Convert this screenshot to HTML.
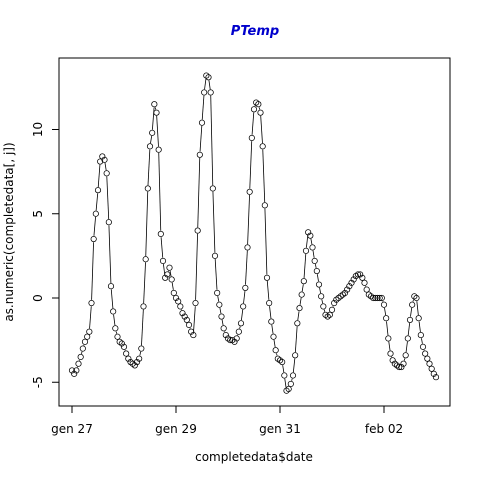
<!DOCTYPE html>
<html><head><meta charset="utf-8"><style>
body{margin:0;background:#fff;}
svg{display:block;font-family:"DejaVu Sans","Liberation Sans",sans-serif;}
</style></head><body>
<svg id="chart" width="480" height="480" viewBox="0 0 480 480">
<rect width="480" height="480" fill="#fff"/>
<text x="255" y="35" text-anchor="middle" font-size="13" font-weight="bold" font-style="italic" fill="#0000cc">PTemp</text>
<rect x="59" y="58" width="391" height="348" fill="none" stroke="#000" stroke-width="1"/>
<g id="xaxis"></g>
<g id="yaxis"></g>
<g id="series"></g>
<text x="254" y="461" text-anchor="middle" font-size="12">completedata$date</text>
<text transform="translate(13,232) rotate(-90)" text-anchor="middle" font-size="12">as.numeric(completedata[, j])</text>
</svg>
<script>
// hours since gen 27 00:00
const xTickHours = [0, 48, 96, 144];
const xTickLabels = ["gen 27", "gen 29", "gen 31", "feb 02"];
const yTicks = [-5, 0, 5, 10];
const values = [-4.3,-4.5,-4.3,-3.9,-3.5,-3.0,-2.6,-2.3,-2.0,-0.3,
3.5,5.0,6.4,8.1,8.4,8.2,7.4,4.5,0.7,-0.8,
-1.8,-2.3,-2.6,-2.7,-2.9,-3.3,-3.6,-3.8,-3.9,-4.0,
-3.8,-3.6,-3.0,-0.5,2.3,6.5,9.0,9.8,11.5,11.0,
8.8,3.8,2.2,1.2,1.4,1.8,1.1,0.3,0.0,-0.2,
-0.5,-0.9,-1.1,-1.3,-1.6,-2.0,-2.2,-0.3,4.0,8.5,
10.4,12.2,13.2,13.1,12.2,6.5,2.5,0.3,-0.4,-1.1,
-1.8,-2.2,-2.4,-2.5,-2.5,-2.6,-2.4,-2.0,-1.5,-0.5,
0.6,3.0,6.3,9.5,11.2,11.6,11.5,11.0,9.0,5.5,
1.2,-0.3,-1.4,-2.3,-3.1,-3.6,-3.7,-3.8,-4.6,-5.5,
-5.4,-5.1,-4.6,-3.4,-1.5,-0.6,0.2,1.0,2.8,3.9,
3.7,3.0,2.2,1.6,0.8,0.1,-0.5,-1.0,-1.1,-1.0,
-0.7,-0.3,-0.1,0.0,0.1,0.2,0.3,0.5,0.7,0.9,
1.1,1.3,1.4,1.4,1.2,0.9,0.5,0.2,0.1,0.0,
0.0,0.0,0.0,0.0,-0.4,-1.2,-2.4,-3.3,-3.7,-3.9,
-4.0,-4.1,-4.1,-3.9,-3.4,-2.4,-1.3,-0.4,0.1,0.0,
-1.2,-2.2,-2.9,-3.3,-3.6,-3.9,-4.2,-4.5,-4.7];

const NS = "http://www.w3.org/2000/svg";
function xs(h){ return 72 + h * 52 / 24; }
function ys(v){ return 298 - v * 16.85; }
function mk(tag, attrs, parent){
  const e = document.createElementNS(NS, tag);
  for (const k in attrs) e.setAttribute(k, attrs[k]);
  parent.appendChild(e); return e;
}
const xa = document.getElementById("xaxis");
xTickHours.forEach((h,i)=>{
  const t = mk("line",{x1:xs(h),x2:xs(h),y1:406,y2:413,stroke:"#000"},xa);
  
  
  const l = mk("text",{x:xs(h),y:433,"text-anchor":"middle","font-size":12},xa);
  l.textContent = xTickLabels[i];
  
  
});
const ya = document.getElementById("yaxis");
yTicks.forEach(v=>{
  const t = mk("line",{x1:52,x2:59,y1:ys(v),y2:ys(v),stroke:"#000"},ya);
  
  
  const l = mk("text",{transform:`translate(42,${ys(v)}) rotate(-90)`,"text-anchor":"middle","font-size":12},ya);
  l.textContent = String(v);
  
  
});
const g = document.getElementById("series");
const r = 2.7;
for (let i=0;i<values.length-1;i++){
  const x1=xs(i),y1=ys(values[i]),x2=xs(i+1),y2=ys(values[i+1]);
  const d=Math.hypot(x2-x1,y2-y1);
  if (d>2*r+1){
    const ux=(x2-x1)/d, uy=(y2-y1)/d;
    const s = mk("line",{x1:x1+ux*(r+0.5),y1:y1+uy*(r+0.5),x2:x2-ux*(r+0.5),y2:y2-uy*(r+0.5),stroke:"#000","stroke-width":0.8},g);
    
    
  }
}
values.forEach((v,i)=>{
  const c = mk("circle",{cx:xs(i),cy:ys(v),r:r,fill:"none",stroke:"#000","stroke-width":0.75},g);
  
  
});
</script>
</body></html>
